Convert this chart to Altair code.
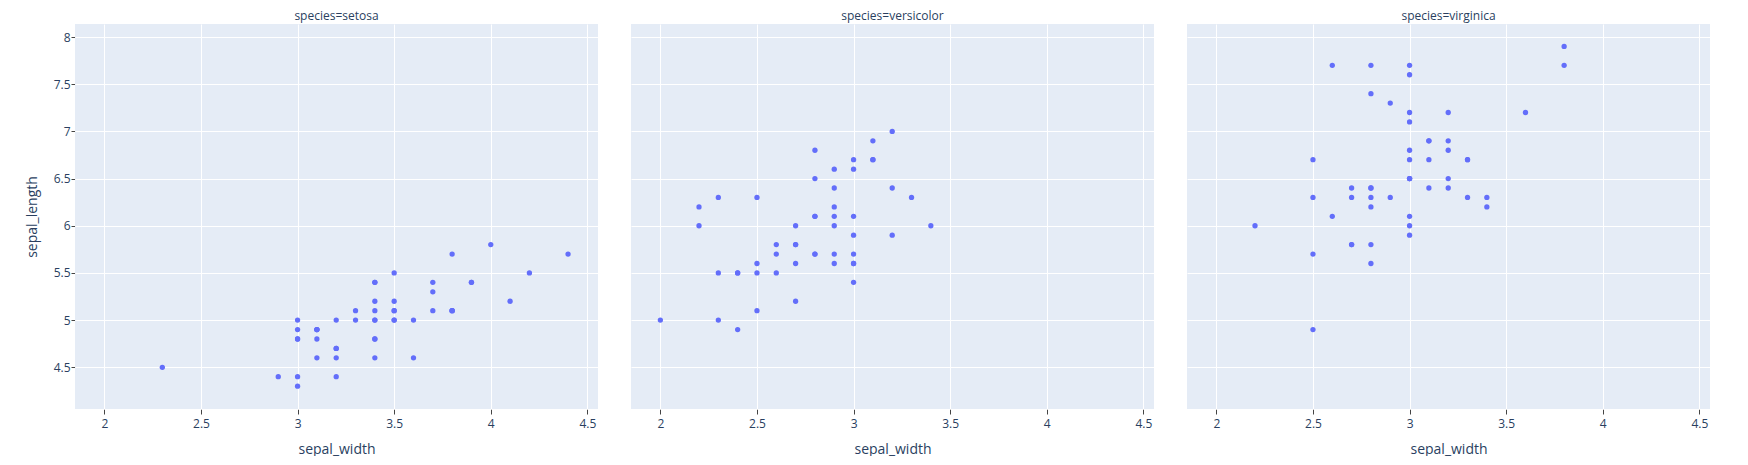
import altair as alt
import pandas as pd

setosa_sepal_length = [5.1, 4.9, 4.7, 4.6, 5.0, 5.4, 4.6, 5.0, 4.4, 4.9, 5.4, 4.8, 4.8, 4.3, 5.8, 5.7, 5.4, 5.1, 5.7, 5.1,
                       5.4, 5.1, 4.6, 5.1, 4.8, 5.0, 5.0, 5.2, 5.2, 4.7, 4.8, 5.4, 5.2, 5.5, 4.9, 5.0, 5.5, 4.9, 4.4, 5.1,
                       5.0, 4.5, 4.4, 5.0, 5.1, 4.8, 5.1, 4.6, 5.3, 5.0]
setosa_sepal_width = [3.5, 3.0, 3.2, 3.1, 3.6, 3.9, 3.4, 3.4, 2.9, 3.1, 3.7, 3.4, 3.0, 3.0, 4.0, 4.4, 3.9, 3.5, 3.8, 3.8,
                      3.4, 3.7, 3.6, 3.3, 3.4, 3.0, 3.4, 3.5, 3.4, 3.2, 3.1, 3.4, 4.1, 4.2, 3.1, 3.2, 3.5, 3.1, 3.0, 3.4,
                      3.5, 2.3, 3.2, 3.5, 3.8, 3.0, 3.8, 3.2, 3.7, 3.3]

versicolor_sepal_length = [7.0, 6.4, 6.9, 5.5, 6.5, 5.7, 6.3, 4.9, 6.6, 5.2, 5.0, 5.9, 6.0, 6.1, 5.6, 6.7, 5.6, 5.8, 6.2, 5.6,
                           5.9, 6.1, 6.3, 6.1, 6.4, 6.6, 6.8, 6.7, 6.0, 5.7, 5.5, 5.5, 5.8, 6.0, 5.4, 6.0, 6.7, 6.3, 5.6, 5.5,
                           5.5, 6.1, 5.8, 5.0, 5.6, 5.7, 5.7, 6.2, 5.1, 5.7]
versicolor_sepal_width = [3.2, 3.2, 3.1, 2.3, 2.8, 2.8, 3.3, 2.4, 2.9, 2.7, 2.0, 3.0, 2.2, 2.9, 2.9, 3.1, 3.0, 2.7, 2.2, 2.5,
                          3.2, 2.8, 2.5, 2.8, 2.9, 3.0, 2.8, 3.0, 2.9, 2.6, 2.4, 2.4, 2.7, 2.7, 3.0, 3.4, 3.1, 2.3, 3.0, 2.5,
                          2.6, 3.0, 2.6, 2.3, 2.7, 3.0, 2.9, 2.9, 2.5, 2.8]

virginica_sepal_length = [6.3, 5.8, 7.1, 6.3, 6.5, 7.6, 4.9, 7.3, 6.7, 7.2, 6.5, 6.4, 6.8, 5.7, 5.8, 6.4, 6.5, 7.7, 7.7, 6.0,
                          6.9, 5.6, 7.7, 6.3, 6.7, 7.2, 6.2, 6.1, 6.4, 7.2, 7.4, 7.9, 6.4, 6.3, 6.1, 7.7, 6.3, 6.4, 6.0, 6.9,
                          6.7, 6.9, 5.8, 6.8, 6.7, 6.7, 6.3, 6.5, 6.2, 5.9]
virginica_sepal_width = [3.3, 2.7, 3.0, 2.9, 3.0, 3.0, 2.5, 2.9, 2.5, 3.6, 3.2, 2.7, 3.0, 2.5, 2.8, 3.2, 3.0, 3.8, 2.6, 2.2,
                         3.2, 2.8, 2.8, 2.7, 3.3, 3.2, 2.8, 3.0, 2.8, 3.0, 2.8, 3.8, 2.8, 2.8, 2.6, 3.0, 3.4, 3.1, 3.0, 3.1,
                         3.1, 3.1, 2.7, 3.2, 3.3, 3.0, 2.5, 3.0, 3.4, 3.0]

species_names = ["setosa", "versicolor", "virginica"]
x_ticks = [2, 2.5, 3, 3.5, 4, 4.5]
y_ticks = [4.5, 5, 5.5, 6, 6.5, 7, 7.5, 8]

rows = []
for name, sl, sw in [("setosa", setosa_sepal_length, setosa_sepal_width),
                     ("versicolor", versicolor_sepal_length, versicolor_sepal_width),
                     ("virginica", virginica_sepal_length, virginica_sepal_width)]:
    for a, b in zip(sl, sw):
        rows.append({"species": name, "sepal_length": a, "sepal_width": b})
df = pd.DataFrame(rows)

FONT = "Open Sans"
TXT = "#2a3f5f"

base = alt.Chart(df).mark_circle(size=28, opacity=1, color="#636efa").encode(
    x=alt.X("sepal_width:Q",
            scale=alt.Scale(domain=[1.848, 4.555], nice=False, zero=False),
            axis=alt.Axis(values=x_ticks, format="~g", title="sepal_width",
                          titlePadding=13, labelPadding=4, tickSize=5)),
    y=alt.Y("sepal_length:Q",
            scale=alt.Scale(domain=[4.058, 8.138], nice=False, zero=False),
            axis=alt.Axis(values=y_ticks, format="~g", title="sepal_length",
                          titlePadding=14, labelPadding=1, tickSize=4)),
).properties(width=523, height=385)

chart = base.facet(
    column=alt.Column("species:N", sort=species_names,
                      header=alt.Header(title=None,
                                        labelExpr="'species=' + datum.value",
                                        labelFont=FONT, labelFontSize=12,
                                        labelColor=TXT, labelPadding=1)),
    spacing=33,
).properties(
    padding={"left": 17, "top": 2, "right": 5, "bottom": 0},
).configure_view(
    fill="#E5ECF6", stroke=None
).configure_axis(
    grid=True, gridColor="white", gridWidth=1, domain=False,
    tickColor="#444", labelFont=FONT, labelFontSize=12, labelColor=TXT,
    titleFont=FONT, titleFontSize=14, titleColor=TXT, titleFontWeight="normal",
)

chart.save("out.html", embed_options={"renderer": "svg", "actions": False})
